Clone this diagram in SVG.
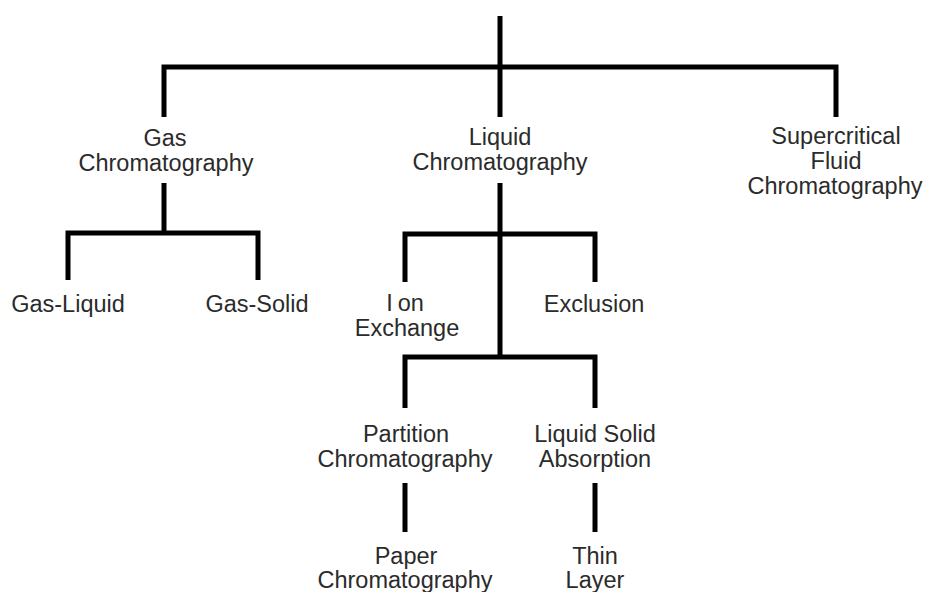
<svg xmlns="http://www.w3.org/2000/svg" width="928" height="592" viewBox="0 0 928 592">
<style>
.ln{stroke:#000;stroke-width:5;fill:none;stroke-linecap:butt;stroke-linejoin:miter}
.t{font-family:"Liberation Sans",Arial,sans-serif;font-size:23.5px;fill:#2b2b2b;text-anchor:middle}
</style>
<rect width="928" height="592" fill="#fff"/>
<g id="connectors">
<path class="ln" d="M500 16V117"/>
<path class="ln" d="M164 117V67H836V117"/>
<path class="ln" d="M164 183V233"/>
<path class="ln" d="M68 280V233H258V280"/>
<path class="ln" d="M500 183V357"/>
<path class="ln" d="M405 282V234H595V282"/>
<path class="ln" d="M405 408V357H595V408"/>
<path class="ln" d="M405 483V532"/>
<path class="ln" d="M595 483V532"/>
</g>
<g id="gas-chromatography"><text class="t" x="165" y="146">Gas</text><text class="t" x="166" y="171">Chromatography</text></g>
<g id="liquid-chromatography"><text class="t" x="500" y="145">Liquid</text><text class="t" x="500" y="170">Chromatography</text></g>
<g id="supercritical-fluid-chromatography"><text class="t" x="836" y="144">Supercritical</text><text class="t" x="836" y="169">Fluid</text><text class="t" x="835" y="194">Chromatography</text></g>
<g id="gas-liquid"><text class="t" x="68" y="312">Gas-Liquid</text></g>
<g id="gas-solid"><text class="t" x="257" y="312">Gas-Solid</text></g>
<g id="ion-exchange"><text class="t" x="405" y="311"><tspan>I</tspan><tspan dx="5">on</tspan></text><text class="t" x="407" y="336">Exchange</text></g>
<g id="exclusion"><text class="t" x="594" y="312">Exclusion</text></g>
<g id="partition-chromatography"><text class="t" x="406" y="442">Partition</text><text class="t" x="405" y="467">Chromatography</text></g>
<g id="liquid-solid-absorption"><text class="t" x="595" y="442">Liquid Solid</text><text class="t" x="595" y="467">Absorption</text></g>
<g id="paper-chromatography"><text class="t" x="406" y="564">Paper</text><text class="t" x="405" y="588">Chromatography</text></g>
<g id="thin-layer"><text class="t" x="595" y="564">Thin</text><text class="t" x="595" y="588">Layer</text></g>
</svg>
